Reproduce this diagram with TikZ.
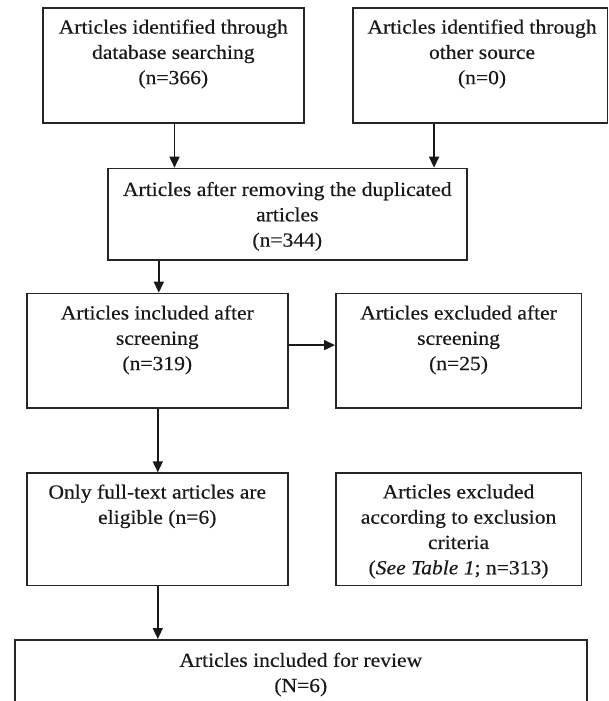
\documentclass[tikz,border=0pt]{standalone}
\usepackage{fontspec}
\setmainfont{Liberation Serif}[FakeStretch=1.08,FakeBold=0.4]
\usetikzlibrary{arrows.meta,calc}
\tikzset{
  box/.style={draw=black!85, line width=1.6pt, rectangle, inner sep=0pt, anchor=north west},
  txt/.style={align=center, inner sep=0pt, anchor=north, text=black!90,
    font=\fontsize{20}{25.3}\selectfont},
  arr/.style={draw=black!90, line width=1.6pt, -{Triangle[length=11pt,width=10pt]}}
}
\begin{document}
\begin{tikzpicture}[x=1pt,y=-1pt]
\useasboundingbox (0,0) rectangle (608,701);
\clip (0,0) rectangle (608,701);
% boxes
\node[box, minimum width=261pt, minimum height=114.7pt] (b1) at (42,7.3) {};
\node[box, minimum width=254.5pt, minimum height=114.7pt] (b2) at (352,7.3) {};
\node[box, minimum width=359pt, minimum height=91.3pt] (b3) at (107,167.7) {};
\node[box, minimum width=261pt, minimum height=114.6pt] (b4) at (26,292.7) {};
\node[box, minimum width=245.5pt, minimum height=114.6pt] (b5) at (335,292.7) {};
\node[box, minimum width=261pt, minimum height=112.4pt] (b6) at (26,472.3) {};
\node[box, minimum width=245.5pt, minimum height=112.4pt] (b7) at (335,472.3) {};
\node[box, minimum width=572pt, minimum height=80pt] (b8) at (14,639) {};
% texts
\node[txt] (t1) at ([yshift=-12pt]b1.north) {Articles identified through\\database searching\\(n=366)};
\node[txt] (t2) at ([yshift=-12pt,xshift=2pt]b2.north) {Articles identified through\\other source\\(n=0)};
\node[txt] (t3) at ([yshift=-14pt]b3.north) {Articles after removing the duplicated\\articles\\(n=344)};
\node[txt] (t4) at ([yshift=-12.5pt]b4.north) {Articles included after\\screening\\(n=319)};
\node[txt] (t5) at ([yshift=-12.5pt]b5.north) {Articles excluded after\\screening\\(n=25)};
\node[txt] (t6) at ([yshift=-12pt]b6.north) {Only full-text articles are\\eligible (n=6)};
\node[txt] (t7) at ([yshift=-12pt]b7.north) {Articles excluded\\according to exclusion\\criteria\\(\textit{See Table 1}; n=313)};
\node[txt] (t8) at ([yshift=-13.5pt]b8.north) {Articles included for review\\(N=6)};
% connectors
\draw[arr] ([xshift=1.2pt]b1.south) -- ([xshift=1.2pt]b1.south |- b3.north);
\draw[arr] ([xshift=-46pt]b2.south) -- ([xshift=-46pt]b2.south |- b3.north);
\draw[arr] ([xshift=1.5pt]b4.north |- b3.south) -- ([xshift=1.5pt]b4.north);
\draw[arr] ([yshift=5.7pt]b4.east) -- ([yshift=5.7pt]b4.east -| b5.west);
\draw[arr] ([xshift=0.5pt]b4.south) -- ([xshift=0.5pt]b6.north);
\draw[arr] ([xshift=0.5pt]b6.south) -- ([xshift=0.5pt]b6.south |- b8.north);
\end{tikzpicture}
\end{document}
